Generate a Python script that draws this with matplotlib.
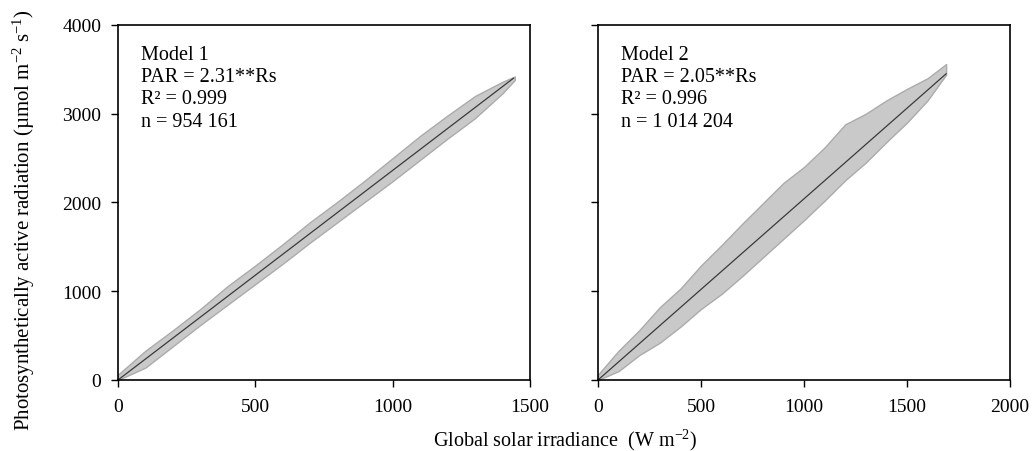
# PAR vs global solar irradiance, two model panels
import numpy as np
import matplotlib.pyplot as plt

plt.rcParams['font.family'] = ['Liberation Serif', 'DejaVu Serif']
plt.rcParams['mathtext.fontset'] = 'custom'
plt.rcParams['mathtext.rm'] = 'Liberation Serif'
plt.rcParams['mathtext.it'] = 'Liberation Serif:italic'

# Model 1: envelope of the point cloud and fitted line
x1 = [0, 100, 200, 300, 400, 500, 600, 700, 800, 900, 1000, 1100, 1200, 1300, 1400, 1445]
upper1 = [60, 330, 560, 800, 1060, 1290, 1530, 1780, 2010, 2250, 2500, 2750, 2980, 3200, 3360, 3420]
lower1 = [0, 140, 380, 620, 850, 1080, 1310, 1550, 1780, 2010, 2240, 2480, 2720, 2950, 3230, 3380]
fit1_x = [0, 1440]
fit1_y = [0, 3400]

# Model 2
x2 = [0, 100, 200, 300, 400, 500, 600, 700, 800, 900, 1000, 1100, 1200, 1300, 1400, 1500, 1600, 1690]
upper2 = [60, 330, 560, 820, 1030, 1290, 1520, 1760, 1990, 2220, 2400, 2620, 2880, 3000, 3150, 3280, 3400, 3560]
lower2 = [0, 100, 280, 420, 600, 800, 970, 1170, 1380, 1590, 1800, 2020, 2250, 2450, 2680, 2900, 3150, 3440]
fit2_x = [0, 1690]
fit2_y = [0, 3450]

labels1 = ['Model 1', 'PAR = 2.31**Rs', 'R² = 0.999', 'n = 954 161']
labels2 = ['Model 2', 'PAR = 2.05**Rs', 'R² = 0.996', 'n = 1 014 204']

fig = plt.figure(figsize=(10.33, 4.52), dpi=100)
ax1 = fig.add_axes([0.1142, 0.1571, 0.3988, 0.7854])
ax2 = fig.add_axes([0.5789, 0.1571, 0.3988, 0.7854])

panels = [(ax1, x1, upper1, lower1, fit1_x, fit1_y, labels1, [0, 500, 1000, 1500]),
          (ax2, x2, upper2, lower2, fit2_x, fit2_y, labels2, [0, 500, 1000, 1500, 2000])]

for ax, xs, up, lo, fx, fy, labels, xticks in panels:
    # point cloud drawn as a filled band
    ax.fill_between(xs, lo, up, facecolor='#c9c9c9', edgecolor='#ababab', linewidth=1.0)
    ax.plot(fx, fy, color='#3a3a3a', linewidth=0.9)
    ax.set_xlim(0, xticks[-1])
    ax.set_ylim(0, 4000)
    ax.set_xticks(xticks)
    ax.set_yticks([0, 1000, 2000, 3000, 4000])
    ax.tick_params(direction='out', length=5, width=1, labelsize=14, colors='black')
    ax.tick_params(axis='x', pad=8)
    ax.tick_params(axis='y', pad=7)
    for s in ax.spines.values():
        s.set_linewidth(1.2)
    ys = [0.918, 0.856, 0.794, 0.729]
    for lab, yy in zip(labels, ys):
        ax.text(0.056, yy, lab, transform=ax.transAxes, fontsize=14.5, va='center', ha='left')

ax2.set_yticklabels([])

fig.text(565 / 1033, 1 - 440 / 452, 'Global solar irradiance  (W m$^{\\mathrm{-2}}$)',
         ha='center', va='center', fontsize=14.5)
fig.text(24 / 1033, 1 - 220 / 452,
         'Photosynthetically active radiation (µmol m$^{\\mathrm{-2}}$ s$^{\\mathrm{-1}}$)',
         ha='center', va='center', rotation=90, fontsize=15)

fig.savefig('out.png', dpi=100)
